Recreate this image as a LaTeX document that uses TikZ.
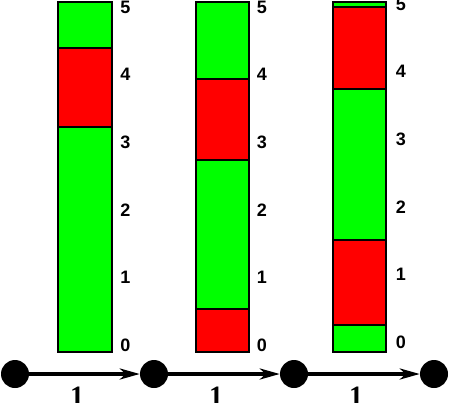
\documentclass[tikz,border=0pt]{standalone}
\usepackage{fontspec}
\setmainfont{Liberation Serif}
\newfontfamily\lsans{Liberation Sans}
\usetikzlibrary{arrows.meta}
\begin{document}
\begin{tikzpicture}[x=1pt,y=-1pt,
  seg/.style={draw=black,line width=2pt},
  gr/.style={seg,fill=green},
  rd/.style={seg,fill=red},
  tick/.style={font=\lsans\bfseries\fontsize{18}{18}\selectfont,inner sep=0pt},
  dot/.style={circle,fill=black,minimum size=28pt,inner sep=0pt},
  edge/.style={line width=4pt,-{Stealth[length=20pt,width=11pt,inset=6pt]}},
  wlab/.style={font=\bfseries\fontsize{28}{28}\selectfont,inner sep=0pt}]
\useasboundingbox (0,0) rectangle (450,402);
% bar 1
\draw[gr] (58,2) rectangle (112,48);
\draw[rd] (58,48) rectangle (112,127);
\draw[gr] (58,127) rectangle (112,352);
% bar 2
\draw[gr] (196,2) rectangle (249,79);
\draw[rd] (196,79) rectangle (249,160);
\draw[gr] (196,160) rectangle (249,309);
\draw[rd] (196,309) rectangle (249,352);
% bar 3
\draw[gr] (333,2) rectangle (386,7);
\draw[rd] (333,7) rectangle (386,89);
\draw[gr] (333,89) rectangle (386,240);
\draw[rd] (333,240) rectangle (386,325);
\draw[gr] (333,325) rectangle (386,352);
% tick labels
\foreach \v/\y in {0/345,1/277.4,2/209.8,3/142.2,4/74.6,5/7}{
  \node[tick] (a\v) at (125.5,\y) {\v};
  \node[tick] (b\v) at (262,\y) {\v};
}
\foreach \v/\y in {0/342,1/274.4,2/206.8,3/139.2,4/71.6,5/4}{
  \node[tick] (c\v) at (401,\y) {\v};
}
% path
\node[dot] (d1) at (15,374) {};
\node[dot] (d2) at (154,374) {};
\node[dot] (d3) at (294,374) {};
\node[dot] (d4) at (434,374) {};
\draw[edge] (d1) -- (d2);
\draw[edge] (d2) -- (d3);
\draw[edge] (d3) -- (d4);
\node[wlab] (w1) at (77,396) {1};
\node[wlab] (w2) at (216,396) {1};
\node[wlab] (w3) at (356,396) {1};
\end{tikzpicture}
\end{document}
